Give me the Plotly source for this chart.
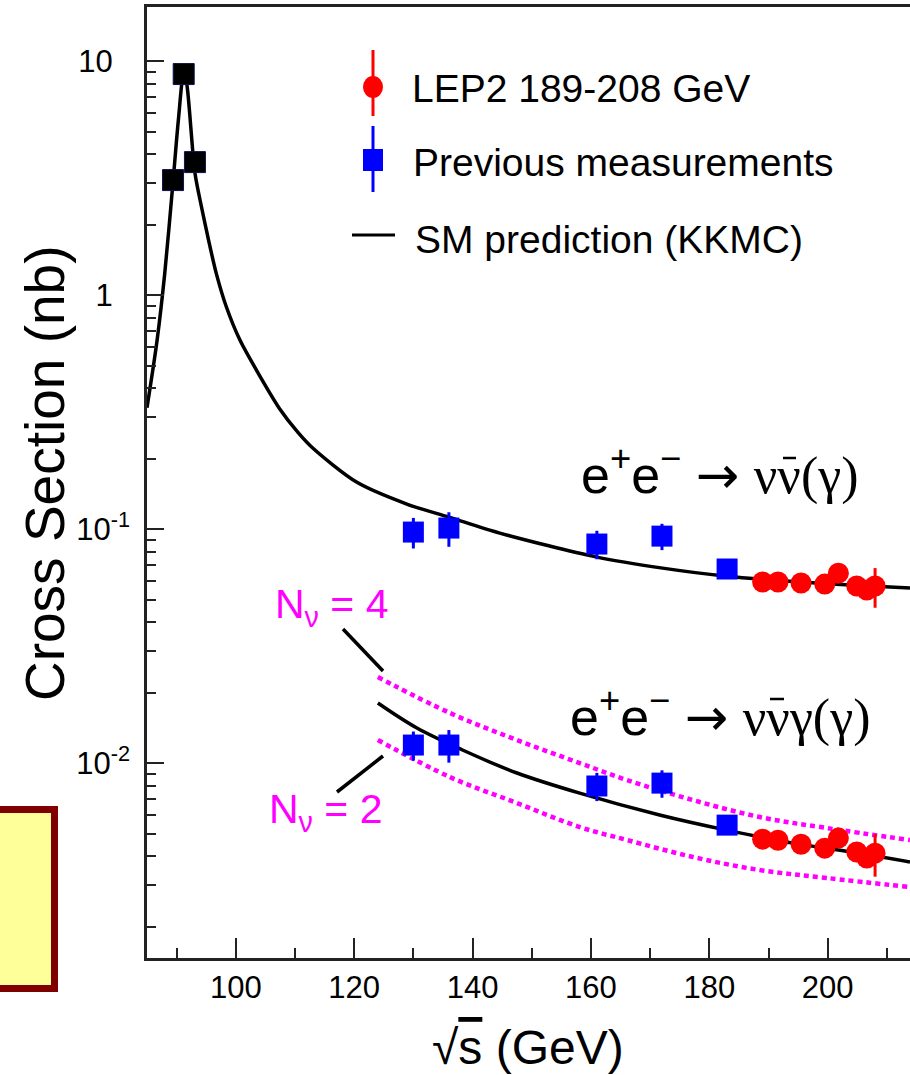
import plotly.graph_objects as go

# ---------------- data ----------------
# SM prediction e+e- -> nu nubar (gamma)
sm_nn_E = [85.0, 86.7, 88.0, 89.4, 90.3, 91.2, 91.7, 93.1, 94.2, 95.4, 96.7, 98.4, 100.7, 103.8,
           107.4, 110.5, 113.0, 120.4, 128.9, 136.0, 144.6, 161.0, 172.1, 182.6, 195.3, 213.9]
sm_nn_xs = [0.33, 0.64, 1.24, 3.05, 5.6, 8.9, 8.05, 3.32, 2.385, 1.718, 1.238, 0.891, 0.642, 0.463,
            0.327, 0.259, 0.222, 0.1588, 0.1279, 0.1125, 0.0961, 0.0759, 0.0681, 0.0630, 0.0594, 0.0560]

# SM prediction e+e- -> nu nubar gamma (gamma), and N_nu = 4 / N_nu = 2 variants
sm_nng_E = [124.0, 130.6, 138.3, 147.5, 158.1, 171.6, 182.9, 194.1, 205.4, 213.9]
sm_nng_xs = [0.01805, 0.01411, 0.01137, 0.00907, 0.00744, 0.00600, 0.00517, 0.00455, 0.00412, 0.00378]
nu4_E = [124.0, 136.2, 147.5, 158.1, 166.1, 177.2, 188.5, 199.8, 213.9]
nu4_xs = [0.02331, 0.01636, 0.01254, 0.0100, 0.00846, 0.00695, 0.00588, 0.00528, 0.00469]
nu2_E = [124.0, 136.2, 147.5, 158.1, 166.1, 177.2, 188.5, 199.8, 213.9]
nu2_xs = [0.01254, 0.00871, 0.00675, 0.00533, 0.00469, 0.00397, 0.00349, 0.00323, 0.00295]

# LEP1 Z-peak measurements (black squares)
lep1_E = [89.4, 91.2, 93.1]
lep1_xs = [3.10, 8.80, 3.70]

# Previous measurements (blue squares)
prev_E = [130.0, 136.0, 161.0, 172.0, 183.0]
prev_nn = [0.0971, 0.101, 0.0863, 0.0933, 0.0675]
prev_nn_err = [0.0145, 0.017, 0.012, 0.012, 0.003]
prev_nng = [0.01194, 0.01194, 0.00798, 0.00821, 0.00543]
prev_nng_err = [0.0017, 0.0019, 0.0011, 0.0011, 0.0003]

# LEP2 189-208 GeV (red circles)
lep2_E = [189.0, 191.6, 195.5, 199.5, 201.8, 204.9, 206.6, 208.0]
lep2_nn = [0.0594, 0.0594, 0.0588, 0.0582, 0.0648, 0.0571, 0.0549, 0.0571]
lep2_nn_err = [0.003, 0.003, 0.003, 0.003, 0.004, 0.004, 0.004, 0.011]
lep2_nng = [0.00473, 0.00468, 0.00450, 0.00433, 0.00478, 0.00417, 0.00393, 0.00412]
lep2_nng_err = [0.0002, 0.0002, 0.0002, 0.0002, 0.0003, 0.0003, 0.0003, 0.00085]

ytick_vals = [0.01, 0.1, 1, 10]
ytick_text = ["10<sup>-2</sup>", "10<sup>-1</sup>", "1\u2007", "10\u2007"]

# ---------------- layout geometry ----------------
W, H = 910, 1075
L, R, T, B = 147, 0, 7, 117


def px(x):
    return (x - L) / (W - L - R)


def py(y):
    return (H - B - y) / (H - B - T)


FONT = "Liberation Sans, Arial, Helvetica, sans-serif"
RED, BLUE, MAG = "#ff0000", "#0000ff", "#ff00ff"

fig = go.Figure()

# curves
fig.add_trace(go.Scatter(x=sm_nn_E, y=sm_nn_xs, mode="lines",
                         line=dict(color="black", width=3.5, shape="spline", smoothing=0.8),
                         name="SM prediction (KKMC)", showlegend=False))
fig.add_trace(go.Scatter(x=nu4_E, y=nu4_xs, mode="lines", line=dict(color=MAG, width=4.5, dash="5px,4px", shape="spline"),
                         showlegend=False))
fig.add_trace(go.Scatter(x=nu2_E, y=nu2_xs, mode="lines", line=dict(color=MAG, width=4.5, dash="5px,4px", shape="spline"),
                         showlegend=False))
fig.add_trace(go.Scatter(x=sm_nng_E, y=sm_nng_xs, mode="lines", line=dict(color="black", width=3.5, shape="spline"),
                         showlegend=False))

# data points
fig.add_trace(go.Scatter(x=lep1_E, y=lep1_xs, mode="markers",
                         marker=dict(symbol="square", size=21, color="black", line=dict(color="#101050", width=1)),
                         showlegend=False))
for ys, es in [(prev_nn, prev_nn_err), (prev_nng, prev_nng_err)]:
    fig.add_trace(go.Scatter(x=prev_E, y=ys, mode="markers",
                             error_y=dict(type="data", array=es, color=BLUE, thickness=3, width=0),
                             marker=dict(symbol="square", size=21, color=BLUE, line=dict(width=0)),
                             showlegend=False))
for ys, es in [(lep2_nn, lep2_nn_err), (lep2_nng, lep2_nng_err)]:
    fig.add_trace(go.Scatter(x=lep2_E, y=ys, mode="markers",
                             error_y=dict(type="data", array=es, color=RED, thickness=3, width=0),
                             marker=dict(symbol="circle", size=21, color=RED, line=dict(width=0)),
                             showlegend=False))

shapes = []
# yellow box at lower left
shapes.append(dict(type="rect", xref="paper", yref="paper", x0=px(-12), x1=px(54.5), y0=py(988.5), y1=py(809.5),
                   line=dict(color="#800000", width=7), fillcolor="#ffff99", layer="above"))
# connector lines for the N_nu labels
shapes.append(dict(type="line", xref="paper", yref="paper", x0=px(343), y0=py(629), x1=px(383), y1=py(671),
                   line=dict(color="black", width=3.5)))
shapes.append(dict(type="line", xref="paper", yref="paper", x0=px(337), y0=py(792), x1=px(383), y1=py(756),
                   line=dict(color="black", width=3.5)))
# legend symbols
shapes.append(dict(type="line", xref="paper", yref="paper", x0=px(373), x1=px(373), y0=py(50), y1=py(116),
                   line=dict(color=RED, width=3)))
shapes.append(dict(type="circle", xref="paper", yref="paper", x0=px(363), x1=px(383), y0=py(98), y1=py(76),
                   line=dict(color=RED, width=0), fillcolor=RED))
shapes.append(dict(type="line", xref="paper", yref="paper", x0=px(373), x1=px(373), y0=py(126), y1=py(192),
                   line=dict(color=BLUE, width=3)))
shapes.append(dict(type="rect", xref="paper", yref="paper", x0=px(363), x1=px(383), y0=py(171), y1=py(149),
                   line=dict(color=BLUE, width=0), fillcolor=BLUE))
shapes.append(dict(type="line", xref="paper", yref="paper", x0=px(352), x1=px(395), y0=py(235), y1=py(235),
                   line=dict(color="black", width=3)))
# anti-neutrino bars over the second nu of each process label
shapes.append(dict(type="line", xref="paper", yref="paper", x0=px(783), x1=px(796), y0=py(458), y1=py(458),
                   line=dict(color="black", width=2.5)))
shapes.append(dict(type="line", xref="paper", yref="paper", x0=px(770), x1=px(784), y0=py(699), y1=py(699),
                   line=dict(color="black", width=2.5)))

ann = []


def text(x, y, s, size, color="black", xanchor="center", angle=0, family=FONT):
    ann.append(dict(x=px(x), y=py(y), xref="paper", yref="paper", text=s, showarrow=False,
                    xanchor=xanchor, yanchor="middle", textangle=angle,
                    font=dict(size=size, color=color, family=family)))


text(410, 88, "LEP2 189-208 GeV", 39, xanchor="left")
text(411, 162, "Previous measurements", 39, xanchor="left")
text(413, 239, "SM prediction (KKMC)", 39, xanchor="left")

ARROW = "<span style='font-family:DejaVu Sans'>\u2192</span>"
SER = "<span style='font-family:Liberation Serif'>"
text(720, 472, "e<sup>+</sup>e<sup>\u2212</sup> " + ARROW + " " + SER + "\u03bd\u03bd(\u03b3)</span>", 52)
text(720, 713, "e<sup>+</sup>e<sup>\u2212</sup> " + ARROW + " " + SER + "\u03bd\u03bd\u03b3(\u03b3)</span>", 52)

text(331, 607, "N<sub>\u03bd</sub> = 4", 41, color=MAG)
text(325, 812, "N<sub>\u03bd</sub> = 2", 41, color=MAG)

text(45, 474, "Cross Section (nb)", 55, angle=-90)
text(528, 1047, "\u221a<span style='text-decoration:overline'>s</span> (GeV)", 48)

axis_line = "#222222"
fig.update_layout(
    width=W, height=H,
    margin=dict(l=L, r=R, t=T, b=B, pad=0),
    paper_bgcolor="white", plot_bgcolor="white",
    showlegend=False,
    font=dict(family=FONT, color="black"),
    shapes=shapes, annotations=ann,
    xaxis=dict(range=[85, 213.9], showgrid=False, zeroline=False,
               showline=True, linecolor=axis_line, linewidth=2.5, mirror=True,
               ticks="inside", ticklen=20, tickwidth=2, tickcolor=axis_line,
               tickmode="linear", tick0=100, dtick=20,
               minor=dict(ticks="inside", ticklen=10, tickwidth=2, tickcolor=axis_line, dtick=10, tick0=0, showgrid=False),
               tickfont=dict(size=31, family=FONT, color="black"), ticklabelstandoff=0),
    yaxis=dict(type="log", range=[-2.833, 1.231], showgrid=False, zeroline=False,
               showline=True, linecolor=axis_line, linewidth=2.5, mirror=False,
               ticks="inside", ticklen=17, tickwidth=2, tickcolor=axis_line,
               tickmode="array", tickvals=ytick_vals, ticktext=ytick_text,
               minor=dict(ticks="inside", ticklen=9, tickwidth=2, tickcolor=axis_line, tickmode="array",
                          tickvals=[m * 10 ** e for e in (-3, -2, -1, 0, 1) for m in range(2, 10)], showgrid=False),
               tickfont=dict(size=31, family=FONT, color="black"), ticklabelstandoff=8),
)

fig.write_html("out.html")
